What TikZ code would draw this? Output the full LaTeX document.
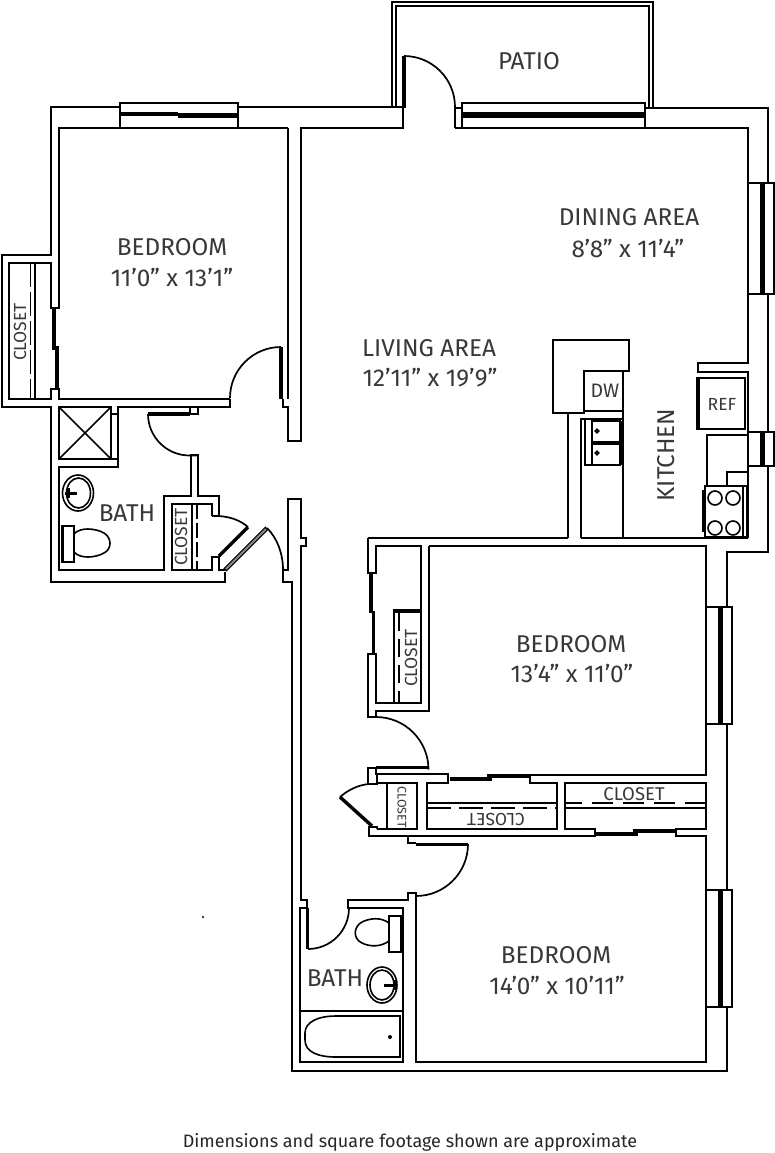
\documentclass[tikz,border=0pt]{standalone}
\usepackage{fontspec}
\setmainfont{Fira Sans}
\tikzset{
 wall/.style={line width=2.2pt,black,line join=miter},
 thin wall/.style={line width=1.6pt,black},
 heavy/.style={line width=3.4pt,black},
 swing/.style={line width=1.7pt,black},
 fixture/.style={line width=1.6pt,black},
 room/.style={inner sep=0pt,text=black!78,font=\fontsize{24.3}{28}\selectfont},
 small/.style={inner sep=0pt,text=black!78,font=\fontsize{17.5}{20}\selectfont},
 tiny/.style={inner sep=0pt,text=black!78,font=\fontsize{12.5}{14}\selectfont},
}
\begin{document}
\begin{tikzpicture}[x=1pt,y=-1pt]
\useasboundingbox (0,0) rectangle (775,1153);
\fill[white] (0,0) rectangle (775,1153);

% ---- upper bedroom, outer wall
\draw[wall] (120,107) -- (51,107) -- (51,255) -- (2,255) -- (2,407) -- (51,407) -- (51,582) -- (225,582) -- (225,572);
\draw[wall] (238,107) -- (403,107);
\draw[wall] (288,128) -- (59,128) -- (59,308) -- (51,308) -- (51,263) -- (9,263) -- (9,399) -- (51,399) -- (51,389) -- (59,389) -- (59,399) -- (230,399);
\draw[wall] (288,128) -- (288,399);
% window north of bedroom
\draw[thin wall] (120,128) -- (120,103) -- (238,103) -- (238,128);
\draw[line width=4.4pt] (120,114) -- (178,114);
\draw[line width=4.4pt] (178,115.5) -- (238,115.5);
% closet rods and sliding doors
\draw[thin wall] (35,263) -- (35,399);
\draw[thin wall,dash pattern=on 24pt off 5pt] (30.5,263) -- (30.5,399);
\draw[heavy] (54,308) -- (54,350);
\draw[heavy] (57,346) -- (57,388);
% bedroom door
\draw[heavy] (281,347) -- (281,399);
\draw[swing] (281,347) arc[start angle=-90,end angle=-180,radius=51];
\draw[wall] (230,399) -- (230,407) -- (118,407) -- (118,467) -- (59,467) -- (59,570) -- (164,570) -- (164,496) -- (191,496) -- (191,455) -- (198,455) -- (198,496) -- (219,496) -- (219,516);
\draw[wall] (283,399) -- (283,407) -- (288,407) -- (288,441) -- (301,441) -- (301,128) -- (403,128) -- (403,56);
\draw[wall] (198,407) -- (198,414) -- (190,414) -- (190,407);
% central living-room west wall south part
\draw[wall] (283,570) -- (288,570) -- (288,499) -- (301,499) -- (301,538) -- (306,538) -- (306,546) -- (301,546) -- (301,900) -- (307,900) -- (307,908) -- (300,908) -- (300,1062) -- (403,1062) -- (403,908) -- (348,908) -- (348,900) -- (408,900) -- (408,893) -- (416,893) -- (416,1062) -- (706,1062) -- (706,836) -- (676,836) -- (676,829) -- (706,829) -- (706,783) -- (565,783) -- (565,829) -- (595,829) -- (595,836) -- (369,836) -- (369,827) -- (377,827) -- (377,829);
\draw[wall] (283,570) -- (283,582) -- (292,582) -- (292,1071) -- (727,1071) -- (727,1007);
% bath 1 closet
\draw[wall] (212,516) -- (212,504) -- (172,504) -- (172,570) -- (212,570) -- (212,557) -- (219,557) -- (219,570) -- (225,570);
\draw[thin wall] (192,504) -- (192,570);
\draw[thin wall,dash pattern=on 15pt off 4pt] (197,504) -- (197,570);
\draw[thin wall] (212,516) -- (219,516);
% bath 1 door
\draw[heavy] (148,414) -- (190,414);
\draw[swing] (148,414) arc[start angle=180,end angle=90,radius=41.5] -- (198,455.5);
% shower
\draw[wall] (59,407) rectangle (111,459);
\draw[thin wall] (59,407) -- (111,459) (111,407) -- (59,459);
\draw[wall] (111,414) -- (118,414) (111,459) -- (118,459);
% closet doors at entry
\draw[swing] (219,516) .. controls (232,517) and (241,521) .. (248,527);
\draw[heavy] (248,527) -- (219,556);
\draw[line width=4.4pt,black] (267,528) -- (225,570);
\draw[line width=2pt,black!45] (266,529) -- (226,569);
\draw[swing] (267,528) .. controls (277,538) and (283,553) .. (283,570);
% bath 1 fixtures
\draw[fixture] (62,526) rectangle (74,562);
\draw[heavy,line width=2pt] (62.5,526) -- (62.5,562);
\draw[fixture] (74,534) .. controls (80,527) and (95,528) .. (104,533) .. controls (112,538) and (112,549) .. (104,553) .. controls (95,558) and (80,559) .. (74,552);
\draw[fixture] (78,493) ellipse [x radius=15.5,y radius=18];
\draw[fixture] (78.5,493) ellipse [x radius=12,y radius=15];
\draw[heavy,line width=3pt] (65,493) -- (77,493);
\draw[heavy,line width=3pt] (68,488) -- (68,498);

% ---- patio
\draw[wall] (392,108) -- (392,2) -- (653,2) -- (653,108);
\draw[wall] (396,108) -- (396,6) -- (649,6) -- (649,108);
\draw[line width=2.6pt] (404.5,108) -- (404.5,56);
\draw[swing] (404,56) arc[start angle=-90,end angle=0,radius=51];
\draw[wall] (455,107) -- (455,128) (455,108) -- (462,108);
\draw[wall] (455,128) -- (748,128) -- (748,183);
\draw[wall] (645,108) -- (768,108) -- (768,183);
\draw[thin wall] (462,128) -- (462,103) -- (645,103) -- (645,128);
\draw[line width=5.5pt] (462,115) -- (645,115);
% east window dining
\draw[thin wall] (748,183) -- (774,183) -- (774,294) -- (748,294) -- cycle;
\draw[line width=5pt] (762,183) -- (762,294);
% east wall
\draw[wall] (768,294) -- (768,432) (768,466) -- (768,552) -- (727,552) -- (727,607);
\draw[wall] (748,294) -- (748,363) -- (698,363) -- (698,372) -- (748,372) -- (748,435) -- (707,435) -- (707,486);
\draw[thin wall] (748,432) rectangle (774,466);
\draw[line width=5pt] (762,432) -- (762,466);
\draw[wall] (748,466) -- (748,538);
\draw[wall] (727,486) -- (727,472) -- (748,472);
% REF
\draw[fixture] (697,378) rectangle (745,429);
\draw[heavy] (698.5,378) -- (698.5,429);
% stove
\draw[fixture] (705,486) rectangle (747,537);
\draw[thin wall] (743,486) -- (743,537);
\draw[heavy,line width=2.4pt] (703,490) -- (703,532);
\foreach \cx/\cy in {715/498,733/498,715/528,733/528}
  \draw[fixture] (\cx,\cy) circle (7);
% kitchen counter
\draw[wall] (568,538) -- (568,413) -- (553,413) -- (553,340) -- (629,340) -- (629,371) -- (584,371) -- (584,413) -- (568,413);
\draw[wall] (623,371) -- (623,538);
\draw[wall] (584,411) -- (623,411);
\draw[wall] (581,538) -- (581,419) -- (623,419);
\draw[wall] (581,538) -- (748,538);
\draw[wall] (368,538) -- (568,538);
% sink
\draw[fixture] (585,419) rectangle (620,465);
\draw[fixture] (592,421) rectangle (620,442);
\draw[fixture] (592,444) rectangle (620,465);
\draw[heavy] (621.5,421) -- (621.5,465);
\draw[fixture] (597,431) circle (1.8) (597,453) circle (1.8);

% ---- middle bedroom
\draw[wall] (429,546) -- (706,546) -- (706,775) -- (530,775) -- (530,783) -- (557,783) -- (557,829) -- (427,829) -- (427,783) -- (448,783) -- (448,774) -- (376,774) -- (376,767);
\draw[wall] (429,546) -- (429,711) -- (376,711) -- (376,717);
\draw[wall] (368,538) -- (368,573) -- (376,573) -- (376,546) -- (421,546) -- (421,703) -- (376,703) -- (376,654) -- (368,654) -- (368,717) -- (376,717);
\draw[heavy] (371,573) -- (371,613);
\draw[heavy] (373.5,611) -- (373.5,654);
\draw[heavy] (393,611) -- (421,611);
\draw[thin wall] (394,611) -- (394,703);
\draw[thin wall,dash pattern=on 18pt off 8pt] (399,613) -- (399,703);
% door to middle bedroom
\draw[swing] (376,717) arc[start angle=-90,end angle=0,radius=52.5];
\draw[heavy,line width=3pt] (376,767.5) -- (429,767.5);
\draw[wall] (376,768) -- (368,768) -- (368,784) -- (377,784) -- (377,774);
% sliding upper closet
\draw[heavy] (450,779) -- (492,779);
\draw[heavy] (487,776) -- (530,776);
% bars of closets
\draw[thin wall] (427,803) -- (557,803);
\draw[thin wall,dash pattern=on 24pt off 8pt] (427,808) -- (557,808);
\draw[thin wall] (565,808) -- (706,808);
\draw[thin wall,dash pattern=on 21pt off 10pt] (706,803) -- (565,803);
% small closet
\draw[wall] (377,783) -- (417,783) -- (417,829) -- (377,829);
\draw[wall] (387,783) -- (387,829);
% left closet door
\draw[swing] (369,784) .. controls (358,785) and (348,790) .. (340,797);
\draw[heavy] (340,797) -- (372,826);
% sliding lower
\draw[heavy] (596,834) -- (638,834);
\draw[heavy] (633,831) -- (675,831);
% east windows
\draw[thin wall] (706,607) -- (732,607) -- (732,724) -- (706,724);
\draw[line width=5pt] (720,607) -- (720,724);
\draw[wall] (727,724) -- (727,890);
\draw[thin wall] (706,890) -- (732,890) -- (732,1007) -- (706,1007);
\draw[line width=5pt] (720,890) -- (720,1007);
% lower bedroom door
\draw[wall] (408,836) -- (408,843) -- (416,843);
\draw[heavy,line width=3pt] (416,844) -- (468,844);
\draw[swing] (468,844) arc[start angle=0,end angle=90,radius=52];
% bath 2 door
\draw[heavy] (307.5,908) -- (307.5,949);
\draw[swing] (308,949) arc[start angle=90,end angle=0,radius=41];
% bath 2 fixtures
\draw[fixture] (389,916) rectangle (402,952);
\draw[heavy,line width=2pt] (401,916) -- (401,952);
\draw[fixture] (389,923) .. controls (381,917) and (370,918) .. (362,922) .. controls (353,927) and (353,939) .. (362,943) .. controls (370,947) and (381,947) .. (389,941);
\draw[fixture] (382,985) ellipse [x radius=15,y radius=18];
\draw[fixture] (382,985) ellipse [x radius=12,y radius=15];
\draw[heavy,line width=3pt] (384,985) -- (397,985);
\draw[heavy,line width=3pt] (395,980) -- (395,990);
\draw[wall] (300,1011) -- (403,1011);
\draw[fixture] (400,1016) -- (400,1057) -- (336,1057) .. controls (318,1057) and (305,1052) .. (305,1040) -- (305,1033) .. controls (305,1022) and (318,1016) .. (336,1016) -- cycle;
\fill (390,1037) circle (2);
\fill (203,917) circle (1.2);

% ---- labels
\node[room] (bed1) at (172,247) {BEDROOM};
\node[room] (bed1d) at (172,277) {11’0” x 13’1”};
\node[room] (living) at (429,348) {LIVING AREA};
\node[room] (livingd) at (430,378) {12’11” x 19’9”};
\node[room] (dining) at (629,217) {DINING AREA};
\node[room] (diningd) at (628,248) {8’8” x 11’4”};
\node[room] (patio) at (529,61) {PATIO};
\node[small,font=\fontsize{19.5}{22}\selectfont] (dw) at (605,391) {DW};
\node[small] (ref) at (722,404) {REF};
\node[room,rotate=90] (kit) at (666,455) {KITCHEN};
\node[small,rotate=90] (c1) at (20,332) {CLOSET};
\node[room] (bath1) at (127,513) {BATH};
\node[small,rotate=90] (c2) at (181,537) {CLOSET};
\node[room] (bed2) at (571,644) {BEDROOM};
\node[room] (bed2d) at (572,673) {13’4” x 11’0”};
\node[small,rotate=90] (c3) at (411,658) {CLOSET};
\node[tiny,rotate=-90] (c4) at (402,807) {CLOSET};
\node[small,rotate=180] (c5) at (496,820) {CLOSET};
\node[small,font=\fontsize{18.5}{22}\selectfont] (c6) at (634,794) {CLOSET};
\node[room] (bed3) at (556,955) {BEDROOM};
\node[room] (bed3d) at (557,985) {14’0” x 10’11”};
\node[room] (bath2) at (335,978) {BATH};
\node[inner sep=0pt,text=black!85,font=\fontsize{18}{21}\selectfont] (note) at (410,1142) {Dimensions and square footage shown are approximate};
\end{tikzpicture}
\end{document}
